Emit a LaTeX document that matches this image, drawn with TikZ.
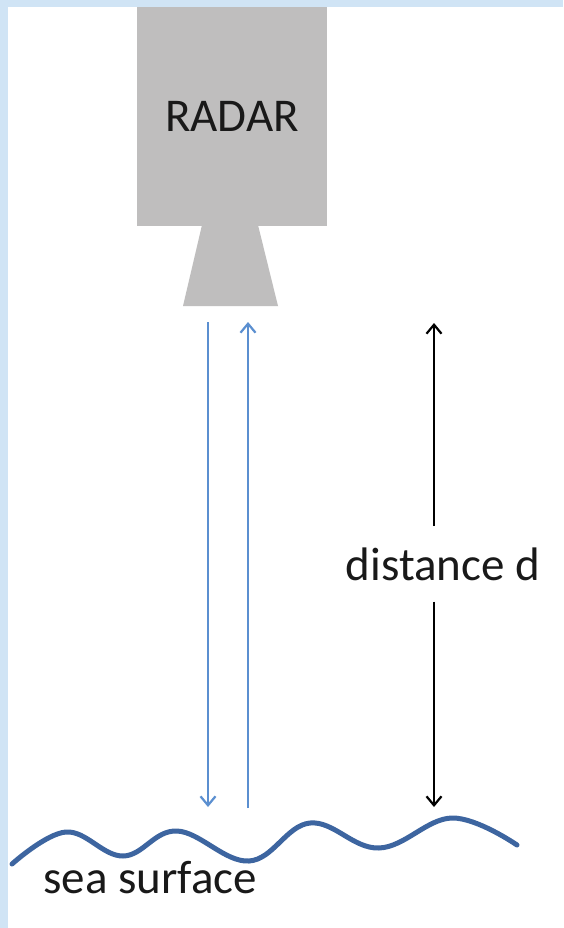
\documentclass[tikz,border=0pt]{standalone}
\usepackage{fontspec}
\setmainfont{Carlito}
\usetikzlibrary{arrows.meta}
\definecolor{framebg}{HTML}{D0E4F5}
\definecolor{radargray}{HTML}{BFBEBE}
\definecolor{beamblue}{HTML}{5B8FD0}
\definecolor{seablue}{HTML}{3D65A0}
\tikzset{
  label text/.style={font=\fontsize{47}{56}\selectfont, text=black!90, inner sep=0pt},
  beam/.style={draw=beamblue, line width=2.2pt, -{Straight Barb[length=9pt,width=15pt,line width=2.2pt]}},
  measure/.style={draw=black, line width=2.2pt, -{Straight Barb[length=9pt,width=15pt,line width=2.2pt]}},
  sea/.style={draw=seablue, line width=5pt, line cap=round}
}
\begin{document}
\begin{tikzpicture}[x=1pt,y=-1pt]
  % page and frame
  \fill[framebg] (0,0) rectangle (563,928);
  \fill[white] (8,7) rectangle (563,928);
  \useasboundingbox (0,0) rectangle (563,928);

  % radar body and horn
  \node[fill=radargray, minimum width=190pt, minimum height=219pt, inner sep=0pt,
        anchor=north west] (radar) at (137,7) {};
  \node[label text, anchor=base] (radarlabel) at (232,132) {RADAR};
  \fill[radargray] (202,225) -- (258,225) -- (278,306) -- (183,306) -- cycle;

  % beams
  \coordinate (txtop) at (208,322);
  \coordinate (txbot) at (208,807);
  \coordinate (rxbot) at (248,808);
  \coordinate (rxtop) at (248,322);
  \draw[beam] (txtop) -- (txbot);
  \draw[beam] (rxbot) -- (rxtop);

  % distance marker
  \coordinate (dtop) at (434,323);
  \coordinate (dbot) at (434,807);
  \node[label text, anchor=base, inner ysep=21pt] (dist) at (443,580) {distance d};
  \draw[measure] (dist.north -| dtop) -- (dtop);
  \draw[measure] (dist.south -| dbot) -- (dbot);

  % sea surface
  \draw[sea] plot[smooth, tension=0.65] coordinates {
    (12,864) (66,832) (123,856) (177,831) (249,861)
    (310,823) (379,848) (452,818) (517,845)};
  \node[label text, anchor=base] (sealabel) at (150,893) {sea surface};
\end{tikzpicture}
\end{document}
